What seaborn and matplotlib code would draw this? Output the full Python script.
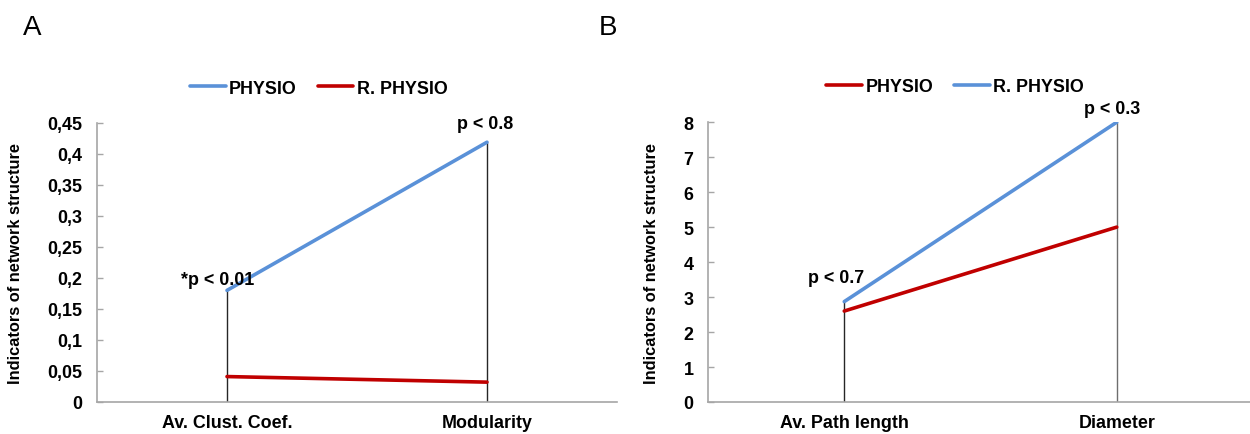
import matplotlib
matplotlib.use('Agg')
import matplotlib.pyplot as plt
import seaborn as sns
from matplotlib.lines import Line2D

sns.set_style("white")
plt.rcParams['font.family'] = ['Liberation Sans', 'DejaVu Sans']
plt.rcParams['font.weight'] = 'bold'
plt.rcParams['text.color'] = 'black'
plt.rcParams['axes.labelcolor'] = 'black'
plt.rcParams['xtick.color'] = 'black'
plt.rcParams['ytick.color'] = 'black'

# Panel A data
cats_a = ['Av. Clust. Coef.', 'Modularity']
physio_a = [0.18, 0.419]
rphysio_a = [0.041, 0.032]
yticks_a = [0, 0.05, 0.1, 0.15, 0.2, 0.25, 0.3, 0.35, 0.4, 0.45]
ylabels_a = ['0', '0,05', '0,1', '0,15', '0,2', '0,25', '0,3', '0,35', '0,4', '0,45']
pvals_a = ['*p < 0.01', 'p < 0.8']

# Panel B data
cats_b = ['Av. Path length', 'Diameter']
physio_b = [2.6, 5.0]
rphysio_b = [2.87, 8.0]
yticks_b = [0, 1, 2, 3, 4, 5, 6, 7, 8]
pvals_b = ['p < 0.7', 'p < 0.3']

BLUE = '#5A91D8'
RED = '#C00000'
FS = 12.9

fig = plt.figure(figsize=(12.5, 4.35), dpi=100)
ax_a = fig.add_axes([0.0776, 0.0736, 0.416, 0.6414])
ax_b = fig.add_axes([0.5664, 0.0736, 0.436, 0.6432])


def style_axis(ax, ylim, yticks, ylabels, label_x):
    ax.set_xlim(-0.5, 1.5)
    ax.set_ylim(*ylim)
    ax.set_yticks(yticks)
    ax.set_yticklabels(ylabels, fontsize=FS, fontweight='bold')
    for lab in ax.get_xticklabels():
        lab.set_fontsize(FS)
        lab.set_fontweight('bold')
    ax.tick_params(axis='y', direction='in', length=4.5, width=1,
                   color='#A6A6A6', labelcolor='black', pad=10.5, left=True)
    ax.tick_params(axis='x', length=0, pad=8.5, labelcolor='black')
    for s in ['top', 'right']:
        ax.spines[s].set_visible(False)
    for s in ['left', 'bottom']:
        ax.spines[s].set_color('#A6A6A6')
        ax.spines[s].set_linewidth(1.2)
    ax.set_xlabel('')
    ax.set_ylabel('Indicators of network structure', fontsize=11.8,
                  fontweight='bold', color='black')
    ax.yaxis.set_label_coords(label_x, 0.5)


# Panel A
sns.lineplot(x=cats_a, y=physio_a, color=BLUE, lw=2.6, ax=ax_a, zorder=3)
sns.lineplot(x=cats_a, y=rphysio_a, color=RED, lw=2.6, ax=ax_a, zorder=3)
tops_a = [max(p, r) for p, r in zip(physio_a, rphysio_a)]
ax_a.vlines(range(len(cats_a)), 0, tops_a, color='#262626', lw=1, zorder=2)
style_axis(ax_a, (0, 0.45), yticks_a, ylabels_a, -0.142)
offs_a = [(-7, 7.5), (-1.5, 13.5)]
for i, (txt, off) in enumerate(zip(pvals_a, offs_a)):
    ax_a.annotate(txt, (i, tops_a[i]), xytext=off, textcoords='offset points',
                  ha='center', va='center', fontsize=FS, fontweight='bold')

# Panel B
sns.lineplot(x=cats_b, y=physio_b, color=RED, lw=2.6, ax=ax_b, zorder=3)
sns.lineplot(x=cats_b, y=rphysio_b, color=BLUE, lw=2.6, ax=ax_b, zorder=3)
tops_b = [max(p, r) for p, r in zip(physio_b, rphysio_b)]
ax_b.vlines(range(len(cats_b)), 0, tops_b, color=['#262626', '#6E6E6E'], lw=1, zorder=2)
style_axis(ax_b, (0, 8), yticks_b, [str(v) for v in yticks_b], -0.09)
offs_b = [(-6, 17), (-3.5, 10)]
for i, (txt, off) in enumerate(zip(pvals_b, offs_b)):
    ax_b.annotate(txt, (i, tops_b[i]), xytext=off, textcoords='offset points',
                  ha='center', va='center', fontsize=FS, fontweight='bold')

# Legends
leg_kw = dict(loc='center', ncol=2, frameon=False, handlelength=2.0,
              handletextpad=0.2, columnspacing=1.15,
              prop={'size': FS, 'weight': 'bold'})
h_a = [Line2D([], [], color=BLUE, lw=2.6), Line2D([], [], color=RED, lw=2.6)]
fig.legend(h_a, ['PHYSIO', 'R. PHYSIO'], bbox_to_anchor=(0.255, 0.795), **leg_kw)
h_b = [Line2D([], [], color=RED, lw=2.6), Line2D([], [], color=BLUE, lw=2.6)]
fig.legend(h_b, ['PHYSIO', 'R. PHYSIO'], bbox_to_anchor=(0.764, 0.798), **leg_kw)

# Panel letters
fig.text(0.0256, 0.935, 'A', fontsize=20, fontweight='normal', ha='center', va='center')
fig.text(0.4864, 0.935, 'B', fontsize=20, fontweight='normal', ha='center', va='center')

fig.savefig('out.png', dpi=100)
